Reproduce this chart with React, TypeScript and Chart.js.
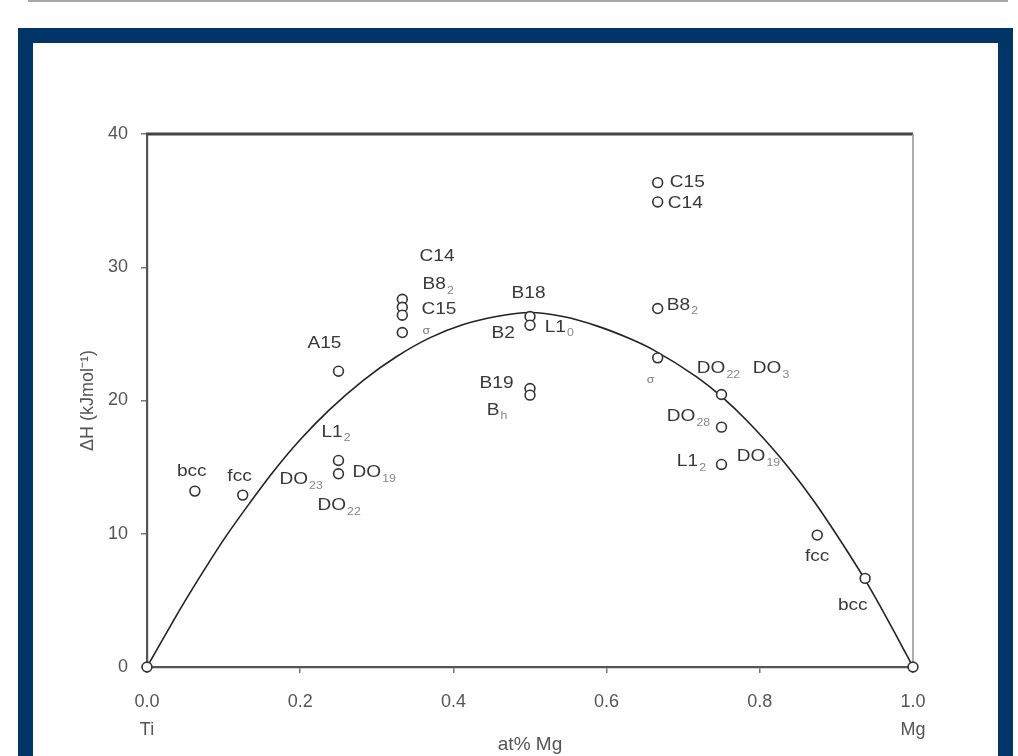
import React, { useEffect, useRef } from "react";
import { Chart, registerables } from "chart.js";

Chart.register(...registerables);

// Fitted enthalpy curve
const curveX = [0, 0.047, 0.077, 0.103, 0.134, 0.164, 0.199, 0.238, 0.282, 0.326, 0.369, 0.413, 0.456, 0.5, 0.543, 0.587, 0.63, 0.661, 0.718, 0.752, 0.783, 0.827, 0.87, 0.896, 0.94, 0.975, 1.0];
const curveY = [0, 4.7, 7.5, 9.8, 12.3, 14.6, 17.0, 19.3, 21.5, 23.3, 24.7, 25.7, 26.3, 26.6, 26.3, 25.6, 24.65, 23.8, 21.75, 20.2, 18.5, 15.7, 12.5, 10.3, 6.3, 2.7, 0];

// Calculated structures (open circles)
const pointX = [0, 0.0625, 0.125, 0.25, 0.25, 0.25, 0.3333, 0.3333, 0.3333, 0.3333, 0.5, 0.5, 0.5, 0.5, 0.6667, 0.6667, 0.6667, 0.6667, 0.75, 0.75, 0.75, 0.875, 0.9375, 1];
const pointY = [0, 13.2, 12.9, 22.2, 15.5, 14.5, 27.6, 27.0, 26.4, 25.1, 26.3, 25.65, 20.9, 20.4, 36.35, 34.9, 26.9, 23.2, 20.45, 18.0, 15.2, 9.9, 6.65, 0];

// Structure labels: base text, subscript, anchor (left edge, middle) in data units
const labelText = ["bcc", "fcc", "L1", "DO", "DO", "DO", "A15", "C14", "B8", "C15", "σ", "B18", "B2", "L1", "B19", "B", "C15", "C14", "B8", "σ", "DO", "DO", "DO", "L1", "DO", "fcc", "bcc"];
const labelSub = ["", "", "2", "23", "19", "22", "", "", "2", "", "", "", "", "0", "", "h", "", "", "2", "", "22", "3", "28", "2", "19", "", ""];
const labelX = [0.0391, 0.1049, 0.2278, 0.1729, 0.2683, 0.2225, 0.2095, 0.3558, 0.3597, 0.3584, 0.3597, 0.476, 0.4499, 0.5191, 0.4342, 0.4434, 0.6825, 0.6799, 0.6786, 0.6524, 0.7177, 0.7909, 0.6786, 0.6917, 0.77, 0.8589, 0.902];
const labelY = [14.66, 14.34, 17.65, 14.06, 14.59, 12.11, 24.28, 30.85, 28.69, 26.82, 25.2, 28.04, 25.02, 25.53, 21.27, 19.28, 36.35, 34.81, 27.16, 21.53, 22.39, 22.39, 18.79, 15.42, 15.79, 8.29, 4.65];

// Axes
const xTicks = [0, 0.2, 0.4, 0.6, 0.8, 1.0];
const yTicks = [0, 10, 20, 30, 40];
const xEndNames = ["Ti", "Mg"];
const xTitle = "at% Mg";
const yTitle = "ΔH (kJmol⁻¹)";

const FONT = '"Liberation Sans", Arial, Helvetica, sans-serif';

const labelPlugin = {
  id: "structureLabels",
  beforeDatasetsDraw(chart: any) {
    const { ctx, chartArea } = chart;
    ctx.save();
    ctx.strokeStyle = "#444";
    ctx.lineWidth = 2.8;
    ctx.beginPath();
    ctx.moveTo(chartArea.left - 1, chartArea.top);
    ctx.lineTo(chartArea.right, chartArea.top);
    ctx.stroke();
    ctx.strokeStyle = "#999";
    ctx.lineWidth = 1.6;
    ctx.beginPath();
    ctx.moveTo(chartArea.right, chartArea.top);
    ctx.lineTo(chartArea.right, chartArea.bottom);
    ctx.stroke();
    ctx.restore();
  },
  afterDatasetsDraw(chart: any) {
    const { ctx, scales } = chart;
    const xs = scales.x;
    const ys = scales.y;
    ctx.save();
    ctx.textBaseline = "middle";
    ctx.textAlign = "left";
    for (let i = 0; i < labelText.length; i++) {
      const px = xs.getPixelForValue(labelX[i]);
      const py = ys.getPixelForValue(labelY[i]);
      ctx.save();
      ctx.translate(px, py);
      ctx.scale(1.12, 1);
      const small = labelText[i] === "σ";
      ctx.font = (small ? "11px " : "17px ") + FONT;
      ctx.fillStyle = small ? "#777" : "#383838";
      ctx.fillText(labelText[i], 0, 0);
      if (labelSub[i]) {
        const w = ctx.measureText(labelText[i]).width;
        ctx.font = "11px " + FONT;
        ctx.fillStyle = "#888";
        ctx.fillText(labelSub[i], w + 1, 6);
      }
      ctx.restore();
    }
    ctx.restore();
  },
};

export default function App() {
  const canvasRef = useRef<HTMLCanvasElement | null>(null);

  useEffect(() => {
    if (!canvasRef.current) return;
    Chart.defaults.font.family = FONT;
    const chart = new Chart(canvasRef.current, {
      type: "scatter",
      data: {
        datasets: [
          {
            data: curveX.map((x, i) => ({ x, y: curveY[i] })),
            showLine: true,
            borderColor: "#222",
            borderWidth: 1.6,
            pointRadius: 0,
            cubicInterpolationMode: "monotone",
            fill: false,
            order: 2,
          } as any,
          {
            data: pointX.map((x, i) => ({ x, y: pointY[i] })),
            pointRadius: 4.9,
            pointBorderWidth: 1.6,
            pointBorderColor: "#333",
            pointBackgroundColor: "#fff",
            borderColor: "#333",
            backgroundColor: "#fff",
            showLine: false,
            clip: false,
            order: 1,
          } as any,
        ],
      },
      options: {
        responsive: false,
        animation: false,
        devicePixelRatio: 1,
        layout: { padding: { left: 0, top: 134, right: 105, bottom: 0 } },
        plugins: { legend: { display: false }, tooltip: { enabled: false } },
        scales: {
          x: {
            type: "linear",
            min: 0,
            max: 1,
            afterFit: (s: any) => {
              s.height = 89;
            },
            afterBuildTicks: (s: any) => {
              s.ticks = xTicks.map((v) => ({ value: v }));
            },
            ticks: {
              autoSkip: false,
              maxRotation: 0,
              padding: 15,
              color: "#555",
              font: { size: 18, lineHeight: 1.56 },
              callback: (v: any) => {
                const n = Number(v);
                const t = n.toFixed(1);
                if (n === 0) return [t, xEndNames[0]];
                if (n === 1) return [t, xEndNames[1]];
                return t;
              },
            },
            grid: { display: true, drawOnChartArea: false, drawTicks: true, tickLength: 6, color: "#777", lineWidth: 1.5 },
            border: { display: true, color: "#555", width: 2.2 },
            title: { display: true, text: xTitle, color: "#555", font: { size: 19 }, padding: { top: 0, bottom: 0 } },
          },
          y: {
            type: "linear",
            min: 0,
            max: 40,
            afterFit: (s: any) => {
              s.width = 147;
            },
            afterBuildTicks: (s: any) => {
              s.ticks = yTicks.map((v) => ({ value: v }));
            },
            ticks: { padding: 13, color: "#555", font: { size: 18 } },
            grid: { display: true, drawOnChartArea: false, drawTicks: true, tickLength: 6, color: "#777", lineWidth: 1.5 },
            border: { display: true, color: "#555", width: 2.2 },
            title: { display: true, text: yTitle, color: "#555", font: { size: 18 }, padding: { top: 77, bottom: 0 } },
          },
        },
      },
      plugins: [labelPlugin],
    } as any);
    return () => chart.destroy();
  }, []);

  return (
    <div style={{ position: "absolute", left: 0, top: 0, width: 1018, height: 756, overflow: "hidden", background: "#fff" }}>
      <div style={{ position: "absolute", left: 28, top: 0, width: 980, height: 2, background: "#a8a8a8" }} />
      <div
        style={{
          position: "absolute",
          left: 18,
          top: 28,
          width: 995,
          height: 760,
          boxSizing: "border-box",
          border: "15px solid #023567",
          background: "#fff",
        }}
      />
      <canvas ref={canvasRef} width={1018} height={756} style={{ position: "absolute", left: 0, top: 0, width: 1018, height: 756 }} />
    </div>
  );
}
